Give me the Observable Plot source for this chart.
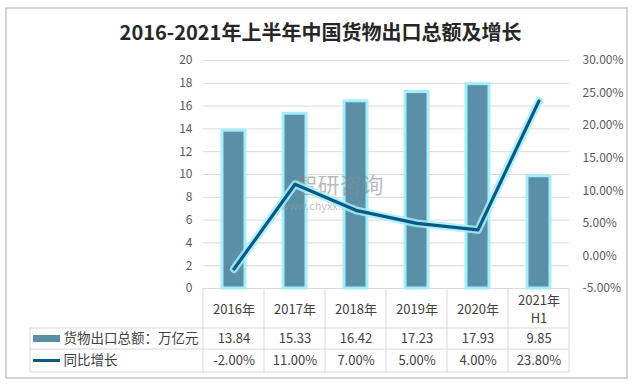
<!DOCTYPE html>
<html><head><meta charset="utf-8">
<script src="https://cdn.jsdelivr.net/npm/d3@7"></script>
<script src="https://cdn.jsdelivr.net/npm/@observablehq/plot@0.6"></script>
<style>
body{margin:0;background:#fff}
g[aria-label="watermark"] text{letter-spacing:5px}
g[aria-label="watermark-url"] text{letter-spacing:4.5px}
</style></head><body><div id="chart"></div>
<script>
const title = "2016-2021年上半年中国货物出口总额及增长";
const years = ["2016年","2017年","2018年","2019年","2020年","2021年\nH1"];
const exportValues = [13.84,15.33,16.42,17.23,17.93,9.85];
const growthValues = [-2.00,11.00,7.00,5.00,4.00,23.80];
const leftTicks = [0,2,4,6,8,10,12,14,16,18,20];
const rightTicks = [-5,0,5,10,15,20,25,30];
const seriesNames = ["货物出口总额：万亿元","同比增长"];

const pctMin = -5, pctMax = 30, yMax = 20;
const toY = p => (p - pctMin) / (pctMax - pctMin) * yMax;
const rows = years.map((year, i) => ({year, value: exportValues[i], growth: growthValues[i]}));

const FONT = '"Microsoft YaHei","Noto Sans CJK SC",sans-serif';
const BAR = "#5b8ea7", GLOW = "#a3eef8", LINE = "#0a5887", GRID = "#d9d9d9", TXT = "#404040";
const ROW_H = [40, 21, 23];

function decorations(index, scales) {
  const g = d3.create("svg:g");
  const x0 = scales.x(years[0]);
  const step = scales.x(years[1]) - x0;
  const x1 = x0 + step * years.length;
  const yTop = scales.y(0);
  const yH = yTop + ROW_H[0], yR1 = yH + ROW_H[1], yR2 = yR1 + ROW_H[2];
  const left = 30;
  g.append("rect").attr("x", 6).attr("y", 8).attr("width", 621).attr("height", 370)
    .attr("fill", "none").attr("stroke", "#c6c6c6").attr("stroke-width", 1.5);
  const ln = (xa, ya, xb, yb) => g.append("line").attr("x1", xa).attr("y1", ya).attr("x2", xb).attr("y2", yb)
    .attr("stroke", GRID).attr("stroke-width", 1);
  for (let i = 0; i <= years.length; i++) ln(x0 + i * step, yTop, x0 + i * step, yR2);
  ln(left, yH, left, yR2);
  [yH, yR1, yR2].forEach(y => ln(left, y, x1, y));
  g.append("rect").attr("x", 33).attr("y", (yH + yR1) / 2 - 3.5).attr("width", 27).attr("height", 7).attr("fill", BAR);
  g.append("line").attr("x1", 33).attr("x2", 60).attr("y1", (yR1 + yR2) / 2).attr("y2", (yR1 + yR2) / 2)
    .attr("stroke", LINE).attr("stroke-width", 3);
  return g.node();
}

const chart = Plot.plot({
  width: 640, height: 386,
  marginLeft: 203, marginRight: 71, marginTop: 60, marginBottom: 98,
  x: {domain: years, padding: 0, axis: null},
  y: {domain: [0, yMax], axis: null},
  style: {fontFamily: FONT, fontSize: "12px", color: "#595959", background: "#fff"},
  marks: [
    Plot.ruleY(leftTicks, {y: d => d, stroke: GRID, strokeOpacity: 1}),
    decorations,
    Plot.text(leftTicks, {y: d => d, frameAnchor: "left", dx: -11, textAnchor: "end", text: d => String(d), fontSize: 12, fill: "#595959"}),
    Plot.text(rightTicks, {y: d => toY(d), frameAnchor: "right", dx: 13, textAnchor: "start", text: d => d.toFixed(2) + "%", fontSize: 12, fill: "#595959"}),
    Plot.barY(rows, {x: "year", y: "value", fill: BAR, stroke: GLOW, strokeWidth: 3, insetLeft: 19, insetRight: 19}),
    Plot.text(["智研咨询"], {frameAnchor: "top-left", dx: 136, dy: 125, lineAnchor: "middle", textAnchor: "middle", text: d => d, fontSize: 22, fill: "#8a8a8a", fillOpacity: 0.6, ariaLabel: "watermark"}),
    Plot.text(["www.chyxx.com"], {frameAnchor: "top-left", dx: 118, dy: 146, lineAnchor: "middle", textAnchor: "middle", text: d => d, fontSize: 11, fill: "#999", fillOpacity: 0.6, ariaLabel: "watermark-url"}),
    Plot.line(rows, {x: "year", y: d => toY(d.growth), stroke: GLOW, strokeWidth: 8, strokeOpacity: 0.85, strokeLinejoin: "round", strokeLinecap: "round"}),
    Plot.line(rows, {x: "year", y: d => toY(d.growth), stroke: LINE, strokeWidth: 3.2, strokeLinejoin: "round", strokeLinecap: "round"}),
    Plot.text(rows, {x: "year", frameAnchor: "bottom", dy: ROW_H[0] / 2, lineAnchor: "middle", text: "year", fontSize: 13, fill: TXT, lineHeight: 1.4}),
    Plot.text(rows, {x: "year", frameAnchor: "bottom", dy: ROW_H[0] + ROW_H[1] / 2, lineAnchor: "middle", text: d => d.value.toFixed(2), fontSize: 13, fill: TXT}),
    Plot.text(rows, {x: "year", frameAnchor: "bottom", dy: ROW_H[0] + ROW_H[1] + ROW_H[2] / 2, lineAnchor: "middle", text: d => d.growth.toFixed(2) + "%", fontSize: 13, fill: TXT}),
    Plot.text([seriesNames[0]], {frameAnchor: "bottom-left", dx: -140, dy: ROW_H[0] + ROW_H[1] / 2, lineAnchor: "middle", textAnchor: "start", text: d => d, fontSize: 13.5, fill: TXT}),
    Plot.text([seriesNames[1]], {frameAnchor: "bottom-left", dx: -140, dy: ROW_H[0] + ROW_H[1] + ROW_H[2] / 2, lineAnchor: "middle", textAnchor: "start", text: d => d, fontSize: 13.5, fill: TXT}),
    Plot.text([title], {frameAnchor: "top", dx: -66, dy: -27, lineAnchor: "middle", text: d => d, fontSize: 20, fontWeight: "bold", fill: "#262626"})
  ]
});
document.getElementById("chart").append(chart);
</script></body></html>
